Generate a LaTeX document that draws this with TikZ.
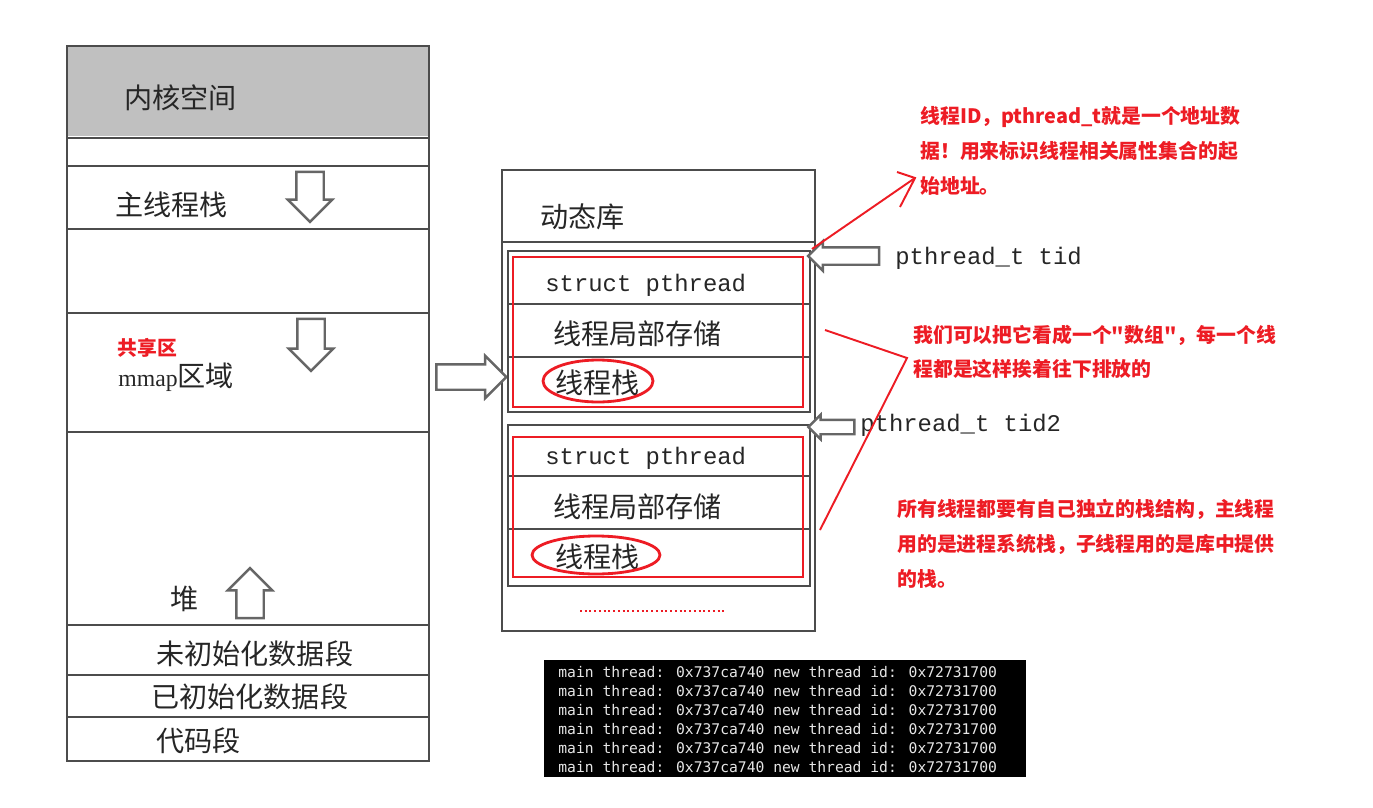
\documentclass[tikz,border=0pt]{standalone}
\usepackage{fontspec}
\setmainfont{Liberation Serif}
\setmonofont{Liberation Mono}
\newfontfamily\cjk{Noto Sans CJK SC}
\newfontfamily\consolefont{DejaVu Sans Mono}
\usetikzlibrary{shapes.arrows,shapes.geometric,positioning,calc}
\definecolor{kernelgray}{RGB}{192,192,192}
\definecolor{notered}{RGB}{237,28,36}
\definecolor{consolefg}{RGB}{230,230,230}

\tikzset{
  boxline/.style={draw=black!70, line width=1.1pt},
  redbox/.style={draw=notered, line width=1.6pt},
  cntext/.style={font=\cjk\fontsize{16}{18}\selectfont, text=black!85, anchor=west, inner sep=0pt},
  codetext/.style={font=\ttfamily\fontsize{13.6}{16}\selectfont, text=black!85, anchor=west, inner sep=0pt},
  notetext/.style={font=\cjk\bfseries\fontsize{11.3}{20}\selectfont, text=notered, anchor=north west, inner sep=0pt, align=left},
  redmark/.style={draw=notered, line width=1.1pt},
  blockarrow/.style={single arrow, draw=black!60, fill=white, line width=1.4pt},
}

\begin{document}
\begin{tikzpicture}[x=0.02cm, y=-0.02cm]
    \useasboundingbox (0,0) rectangle (1373,808);

    % --- process address space (left) ---
    \fill[kernelgray] (67,46) rectangle (429,136);
    \draw[boxline] (67,46) rectangle (429,761);
    \foreach \yy in {138,166,229,313,432,625,675,717}{
        \draw[boxline] (67,\yy) -- (429,\yy);
    }
    \node[cntext] (kernel) at (124,98) {内核空间};
    \node[cntext] (mainstack) at (115,205) {主线程栈};
    \node[cntext, font=\cjk\bfseries\fontsize{11.3}{14}\selectfont, text=notered] (shared) at (117,348) {共享区};
    \node[cntext] (mmap) at (118,377) {{\rmfamily\fontsize{13.5}{16}\selectfont mmap}区域};
    \node[cntext] (heap) at (170,599) {堆};
    \node[cntext] (bss) at (156,654) {未初始化数据段};
    \node[cntext] (data) at (151,697) {已初始化数据段};
    \node[cntext] (text) at (156,741) {代码段};

    % growth arrows
    \node[blockarrow, shape border rotate=270, minimum height=1cm, inner sep=0.25cm,
        single arrow head extend=0.17cm] (stackdown) at (310,190) {};
    \node[blockarrow, shape border rotate=270, minimum height=1.04cm, inner sep=0.25cm,
        single arrow head extend=0.17cm] (mmapdown) at (311,338) {};
    \node[blockarrow, shape border rotate=90, minimum height=1cm, inner sep=0.25cm,
        single arrow head extend=0.17cm] (heapup) at (250,600) {};

    % --- dynamic library (middle) ---
    \draw[boxline] (502,170) rectangle (815,631);
    \draw[boxline] (502,242) -- (815,242);
    \node[cntext] (dynlib) at (540,217) {动态库};
    \node[blockarrow, minimum height=1.4cm, inner sep=0.23cm,
        single arrow head extend=0.17cm] (tolib) at (465,377) {};

    % thread blocks
    \foreach \top/\bot/\ra/\rb/\sa/\sb/\n in {251/412/257/407/304/357/1,425/586/437/577/476/529/2}{
        \draw[boxline] (508,\top) rectangle (810,\bot);
        \draw[boxline] (508,\sa) -- (810,\sa);
        \draw[boxline] (508,\sb) -- (810,\sb);
        \draw[redbox] (513,\ra) rectangle (803,\rb);
    }
    \node[codetext] (tcb1) at (545,285) {struct pthread};
    \node[cntext] (tls1) at (553,334) {线程局部存储};
    \node[cntext] (tstack1) at (555,383) {线程栈};
    \node[ellipse, redbox, minimum width=2.2cm, minimum height=0.84cm] (ring1) at (598,381) {};
    \node[codetext] (tcb2) at (545,458) {struct pthread};
    \node[cntext] (tls2) at (553,507) {线程局部存储};
    \node[cntext] (tstack2) at (555,557) {线程栈};
    \node[ellipse, redbox, minimum width=2.56cm, minimum height=0.76cm] (ring2) at (596,555) {};
    \draw[notered, line width=1.6pt, dash pattern=on 1.1pt off 1.6pt] (580,611) -- (727,611);

    % thread ids
    \node[blockarrow, shape border rotate=180, minimum height=1.42cm, inner sep=0.15cm,
        single arrow head extend=0.12cm] (tidarrow) at (848,256) {};
    \node[codetext] (tid) at (895,258) {pthread\_t tid};
    \node[blockarrow, shape border rotate=180, minimum height=0.92cm, inner sep=0.12cm,
        single arrow head extend=0.1cm] (tidarrow2) at (835,427) {};
    \node[codetext] (tid2) at (860,425) {pthread\_t tid2};

    % --- notes (right) ---
    \node[notetext] (note1) at (920,106) {线程ID，pthread\_t就是一个地址数\\据！用来标识线程相关属性集合的起\\始地址。};
    \node[notetext, font=\cjk\bfseries\fontsize{11.3}{19.4}\selectfont] (note2) at (913,325) {我们可以把它看成一个"数组"，每一个线\\程都是这样挨着往下排放的};
    \node[notetext, font=\cjk\bfseries\fontsize{11.3}{19.8}\selectfont] (note3) at (897,499) {所有线程都要有自己独立的栈结构，主线程\\用的是进程系统栈，子线程用的是库中提供\\的栈。};

    \coordinate (corner) at (812,249);
    \coordinate (tip) at (915,178);
    \draw[redmark] (corner) -- (tip);
    \draw[redmark] ($(tip)+(-18,-6)$) -- (tip) -- ($(tip)+(-15,29)$);
    \draw[redmark] (825,330) -- (907,358) -- (820,530);

    % --- console output ---
    \node[fill=black, minimum width=9.64cm, minimum height=2.34cm, anchor=north west,
        inner sep=0pt] (console) at (544,660) {};
    \foreach \i in {0,...,5}{
        \node[font=\consolefont\fontsize{8.35}{10}\selectfont, text=consolefg, anchor=west,
            inner sep=0pt] (line\i) at (558,672+19*\i)
            {main thread: 0x737ca740 new thread id: 0x72731700};
    }
\end{tikzpicture}
\end{document}
